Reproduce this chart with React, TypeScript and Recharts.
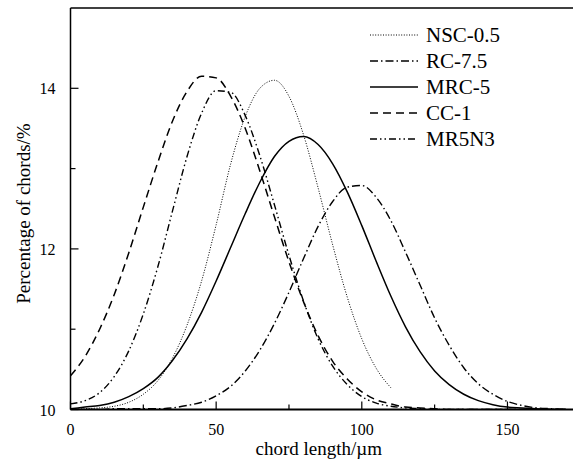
import { Legend, Line, LineChart, ReferenceLine, XAxis, YAxis } from 'recharts'

// chord length (µm) sampled every 5
const chordLength = [
  0, 5, 10, 15, 20, 25, 30, 35, 40, 45, 50, 55, 60, 65, 70, 75, 80, 85,
  90, 95, 100, 105, 110, 115, 120, 125, 130, 135, 140, 145, 150, 155, 160, 165, 170,
]

const nsc05 = [
  10.0, 10.01, 10.02, 10.04, 10.09, 10.19, 10.36, 10.64, 11.05, 11.6, 12.3, 13.06, 13.65, 14.0, 14.1, 13.9, 13.42, 12.76,
  12.05, 11.4, 10.88, 10.51, 10.27,
]
const rc75 = [
  10.0, 10.0, 10.0, 10.01, 10.01, 10.01, 10.01, 10.02, 10.05, 10.09, 10.17, 10.29, 10.48, 10.74, 11.07, 11.46, 11.88, 12.28,
  12.59, 12.77, 12.79, 12.64, 12.35, 11.96, 11.55, 11.14, 10.8, 10.52, 10.32, 10.19, 10.1, 10.05, 10.02, 10.01, 10.0,
]
const mrc5 = [
  10.01, 10.03, 10.05, 10.09, 10.16, 10.26, 10.4, 10.61, 10.88, 11.21, 11.6, 12.02, 12.44, 12.83, 13.15, 13.34, 13.4, 13.3,
  13.06, 12.71, 12.29, 11.84, 11.41, 11.03, 10.72, 10.48, 10.31, 10.19, 10.11, 10.06, 10.03, 10.02, 10.01, 10.0, 10.0,
]
const cc1 = [
  10.42, 10.66, 11.0, 11.43, 11.95, 12.52, 13.08, 13.59, 13.96, 14.15, 14.13, 13.9, 13.5, 12.97, 12.4, 11.84, 11.34, 10.92,
  10.6, 10.38, 10.22, 10.12, 10.07, 10.03, 10.02, 10.01, 10.0, 10.0, 10.0, 10.0, 10.0, 10.0, 10.0, 10.0, 10.0,
]
const mr5n3 = [
  10.07, 10.11, 10.21, 10.41, 10.73, 11.19, 11.78, 12.47, 13.15, 13.69, 13.97, 13.95, 13.66, 13.16, 12.55, 11.92, 11.35, 10.88,
  10.54, 10.31, 10.16, 10.08, 10.04, 10.02, 10.01, 10.0, 10.0, 10.0, 10.0, 10.0, 10.0, 10.0, 10.0, 10.0, 10.0,
]

const xTicks = [0, 25, 50, 75, 100, 125, 150]
const yTicks = [10, 11, 12, 13, 14]

const series = [
  { key: 'nsc', name: 'NSC-0.5', dash: '1 1.6', width: 1 },
  { key: 'rc', name: 'RC-7.5', dash: '8 3 1.5 3', width: 1.4 },
  { key: 'mrc', name: 'MRC-5', dash: undefined, width: 1.5 },
  { key: 'cc', name: 'CC-1', dash: '8 5', width: 1.5 },
  { key: 'mr', name: 'MR5N3', dash: '7 3 1.5 3 1.5 3', width: 1.4 },
]

const data = chordLength.map((x, i) => ({
  x,
  nsc: nsc05[i],
  rc: rc75[i],
  mrc: mrc5[i],
  cc: cc1[i],
  mr: mr5n3[i],
}))

const FONT = 'Liberation Serif, Times New Roman, serif'

const XTick = (props: any) => {
  const { x, y, payload } = props
  const major = payload.value % 50 === 0
  return (
    <g>
      <line x1={x} x2={x} y1={y} y2={y - (major ? 8 : 5)} stroke="#000" strokeWidth={1.2} />
      {major && (
        <text x={x} y={y + 25} textAnchor="middle" fontSize={16} style={{ fontFamily: FONT }} fill="#000">
          {payload.value}
        </text>
      )}
    </g>
  )
}

const YTick = (props: any) => {
  const { x, y, payload } = props
  const major = payload.value % 2 === 0
  return (
    <g>
      <line x1={x} x2={x + (major ? 8 : 5)} y1={y} y2={y} stroke="#000" strokeWidth={1.2} />
      {major && (
        <text x={x - 15} y={y + 6} textAnchor="end" fontSize={16} style={{ fontFamily: FONT }} fill="#000">
          {payload.value}
        </text>
      )}
    </g>
  )
}

const LegendBox = () => (
  <div style={{ fontFamily: FONT, fontSize: 21, color: '#000' }}>
    {series.map((s) => (
      <div key={s.key} style={{ display: 'flex', alignItems: 'center', height: 26 }}>
        <svg width={52} height={10} style={{ marginRight: 6 }}>
          <line x1={2} x2={50} y1={5} y2={5} stroke="#000" strokeWidth={s.width} strokeDasharray={s.dash} />
        </svg>
        <span>{s.name}</span>
      </div>
    ))}
  </div>
)

export default function App() {
  return (
    <div style={{ position: 'absolute', left: 0, top: 0, width: 573, height: 459, background: '#fff', fontFamily: FONT }}>
      <LineChart width={573} height={459} data={data} margin={{ top: 8, right: 0, bottom: 0, left: 0 }}>
        <XAxis
          type="number"
          dataKey="x"
          domain={[0, 172.5]}
          ticks={xTicks}
          interval={0}
          allowDataOverflow
          height={49.5}
          tickSize={0}
          tickMargin={0}
          tickLine={false}
          tick={<XTick />}
          stroke="#000"
          strokeWidth={1.8}
          label={{ value: 'chord length/µm', position: 'insideBottom', offset: 4, fontSize: 19, fontFamily: FONT, fill: '#000', dx: -3 }}
        />
        <YAxis
          type="number"
          domain={[10, 15]}
          ticks={yTicks}
          interval={0}
          allowDataOverflow
          width={70.5}
          tickSize={0}
          tickMargin={0}
          tickLine={false}
          tick={<YTick />}
          stroke="#000"
          strokeWidth={1.5}
          label={{ value: 'Percentage of chords/%', angle: -90, position: 'insideLeft', offset: 23, fontSize: 19, fontFamily: FONT, fill: '#000', dy: 95 }}
        />
        <ReferenceLine y={15} stroke="#000" strokeWidth={1.5} ifOverflow="visible" />
        {series.map((s) => (
          <Line
            key={s.key}
            type="monotone"
            dataKey={s.key}
            name={s.name}
            stroke="#000"
            strokeWidth={s.width}
            strokeDasharray={s.dash}
            dot={false}
            activeDot={false}
            isAnimationActive={false}
          />
        ))}
        <Legend
          layout="vertical"
          align="center"
          verticalAlign="middle"
          content={<LegendBox />}
          wrapperStyle={{ position: 'absolute', left: 368, top: 22, width: 200, height: 'auto' }}
        />
      </LineChart>
    </div>
  )
}
